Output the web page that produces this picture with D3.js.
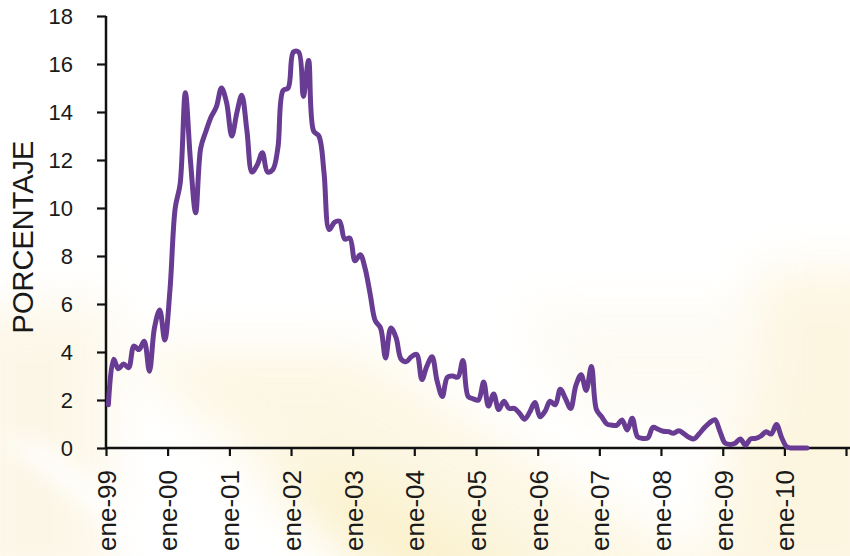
<!DOCTYPE html>
<html>
<head>
<meta charset="utf-8">
<script src="https://cdn.jsdelivr.net/npm/d3@7"></script>
<style>
  html, body { margin: 0; padding: 0; background: #ffffff; }
  svg { display: block; }
  text { font-family: "Liberation Sans", Arial, Helvetica, sans-serif; }
</style>
</head>
<body>
<svg id="chart" width="850" height="556"></svg>
<script>
// ---- Data (monthly, Jan 1999 – May 2010) ----
const startYear = 1999;
const values1999 = [1.8, 3.7, 3.3, 3.5, 3.35, 4.25, 4.1, 4.45, 3.2, 5.0, 5.75, 4.5];
const values2000 = [6.6, 10.0, 11.0, 14.8, 12.0, 9.8, 12.5, 13.2, 13.8, 14.2, 15.0, 14.4];
const values2001 = [13.0, 14.0, 14.7, 13.2, 11.5, 11.8, 12.3, 11.5, 11.6, 12.5, 14.9, 15.0];
const values2002 = [16.5, 16.5, 14.65, 16.15, 13.2, 13.0, 11.5, 9.1, 9.4, 9.45, 8.7, 8.75];
const values2003 = [7.8, 8.05, 7.5, 6.4, 5.3, 5.0, 3.75, 5.0, 4.6, 3.7, 3.6, 3.8];
const values2004 = [3.9, 2.85, 3.4, 3.8, 2.8, 2.15, 2.95, 3.0, 2.95, 3.65, 2.15, 2.05];
const values2005 = [2.0, 2.75, 1.75, 2.25, 1.6, 1.95, 1.65, 1.65, 1.45, 1.2, 1.5, 1.9];
const values2006 = [1.3, 1.55, 1.95, 1.8, 2.45, 2.05, 1.65, 2.6, 3.05, 2.4, 3.4, 1.6];
const values2007 = [1.3, 1.0, 0.95, 0.95, 1.17, 0.75, 1.24, 0.47, 0.4, 0.42, 0.86, 0.78];
const values2008 = [0.7, 0.68, 0.61, 0.72, 0.6, 0.45, 0.38, 0.6, 0.85, 1.05, 1.18, 0.7];
const values2009 = [0.2, 0.15, 0.2, 0.38, 0.12, 0.38, 0.4, 0.5, 0.68, 0.58, 0.98, 0.45];
const values2010 = [0.05, 0.0, 0.0, 0.0, 0.0];

const yTicks = [0, 2, 4, 6, 8, 10, 12, 14, 16, 18];
const xTickYears = [1999, 2000, 2001, 2002, 2003, 2004, 2005, 2006, 2007, 2008, 2009, 2010, 2011];
const xTickLabels = ["ene-99", "ene-00", "ene-01", "ene-02", "ene-03", "ene-04", "ene-05",
                     "ene-06", "ene-07", "ene-08", "ene-09", "ene-10", ""];
const yTitle = "PORCENTAJE";

// ---- Build series ----
const allValues = [].concat(values1999, values2000, values2001, values2002, values2003,
  values2004, values2005, values2006, values2007, values2008, values2009, values2010);
const series = allValues.map((v, i) => ({ date: new Date(startYear, i, 15), value: v }));

// ---- Layout ----
const svg = d3.select("#chart");
const W = 850, H = 556;
const x0 = 106, x1 = 846, yTop = 16, yBot = 448;

// ---- Background glow ----
const defs = svg.append("defs");
defs.append("filter").attr("id", "blur").attr("x", "-50%").attr("y", "-50%")
  .attr("width", "200%").attr("height", "200%")
  .append("feGaussianBlur").attr("stdDeviation", 24);
defs.append("filter").attr("id", "blur2").attr("x", "-50%").attr("y", "-50%")
  .attr("width", "200%").attr("height", "200%")
  .append("feGaussianBlur").attr("stdDeviation", 10);

const bg = svg.append("g");
bg.append("rect").attr("width", W).attr("height", H).attr("fill", "#ffffff");
bg.append("polygon").attr("points", "-40,310 110,300 110,600 -40,600")
  .attr("fill", "#fcf5e2").attr("opacity", 0.8).attr("filter", "url(#blur)");
bg.append("polygon").attr("points", "120,350 360,350 760,600 420,600")
  .attr("fill", "#fbf2d2").attr("opacity", 0.6).attr("filter", "url(#blur)");
bg.append("polygon").attr("points", "260,470 360,470 580,600 380,600")
  .attr("fill", "#f7e6a6").attr("opacity", 0.35).attr("filter", "url(#blur)");
bg.append("polygon").attr("points", "0,440 40,440 260,600 200,600")
  .attr("fill", "#ffffff").attr("opacity", 0.8).attr("filter", "url(#blur2)");
bg.append("polygon").attr("points", "760,270 900,270 900,600 700,600")
  .attr("fill", "#fcf3d8").attr("opacity", 0.75).attr("filter", "url(#blur)");
bg.append("polygon").attr("points", "520,310 760,310 760,420 580,420")
  .attr("fill", "#fdf9ee").attr("opacity", 0.7).attr("filter", "url(#blur)");

// ---- Scales ----
const x = d3.scaleTime()
  .domain([new Date(startYear, 0, 1), new Date(2011, 0, 1)])
  .range([x0, x1]);
const y = d3.scaleLinear().domain([0, 18]).range([yBot, yTop]);

// ---- Y axis ----
const yAxis = d3.axisLeft(y).tickValues(yTicks).tickSize(9).tickPadding(24)
  .tickFormat(d3.format("d"));
const gy = svg.append("g").attr("transform", `translate(${x0},0)`).call(yAxis);
gy.select(".domain").attr("stroke", "#111").attr("stroke-width", 2.5)
  .attr("d", `M0,${yTop}V${yBot}`);
gy.selectAll(".tick line").attr("stroke", "#111").attr("stroke-width", 2.2);
gy.selectAll(".tick text").attr("fill", "#1a1a1a").attr("font-size", 22)
  .attr("dy", "0.36em");

// ---- X axis ----
const xAxis = d3.axisBottom(x)
  .tickValues(xTickYears.map(yr => new Date(yr, 0, 1)))
  .tickSize(8).tickFormat((d, i) => xTickLabels[i]);
const gx = svg.append("g").attr("transform", `translate(0,${yBot})`).call(xAxis);
gx.select(".domain").attr("stroke", "#111").attr("stroke-width", 2.5)
  .attr("d", `M${x0},0H850`);
gx.selectAll(".tick line").attr("stroke", "#111").attr("stroke-width", 2.2);
gx.selectAll(".tick text")
  .attr("fill", "#1a1a1a").attr("font-size", 26)
  .attr("text-anchor", "end")
  .attr("transform", "rotate(-90)")
  .attr("x", -22).attr("y", 0).attr("dy", "0.36em");

// ---- Y title ----
svg.append("text")
  .attr("transform", "translate(33,237) rotate(-90)")
  .attr("text-anchor", "middle")
  .attr("font-size", 29)
  .attr("fill", "#1a1a1a")
  .text(yTitle);

// ---- Line ----
const line = d3.line()
  .x(d => x(d.date))
  .y(d => y(d.value))
  .curve(d3.curveCatmullRom.alpha(0.5));

svg.append("path")
  .datum(series)
  .attr("fill", "none")
  .attr("stroke", "#683c92")
  .attr("stroke-width", 5)
  .attr("stroke-linejoin", "round")
  .attr("stroke-linecap", "round")
  .attr("d", line);
</script>
</body>
</html>
